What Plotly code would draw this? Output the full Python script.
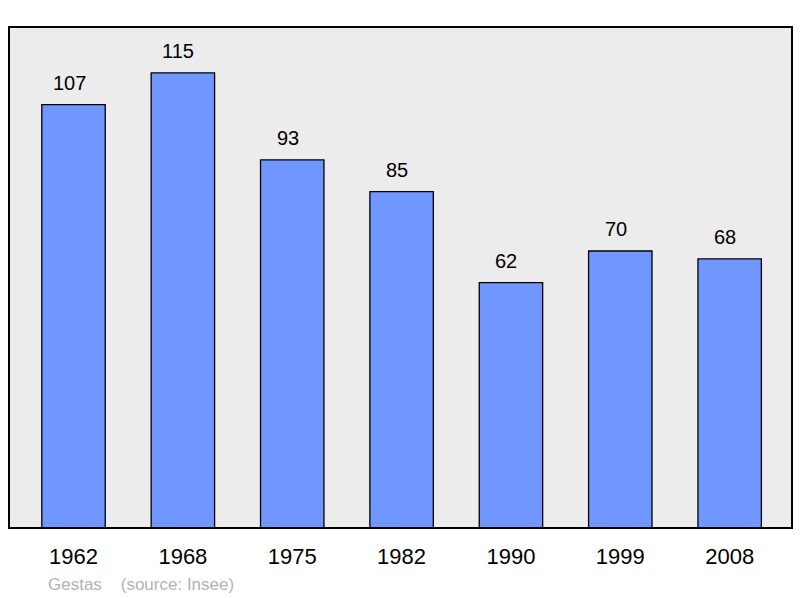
import plotly.graph_objects as go

years = ["1962", "1968", "1975", "1982", "1990", "1999", "2008"]
population = [107, 115, 93, 85, 62, 70, 68]
commune = "Gestas"
source = "(source: Insee)"

xs = list(range(len(years)))

fig = go.Figure()
fig.add_trace(go.Bar(
    x=xs, y=population, width=0.58,
    marker=dict(color="#7096ff", line=dict(color="black", width=1.3)),
    hoverinfo="skip",
))

for x, v in zip(xs, population):
    fig.add_annotation(x=x, y=v, text=str(v), showarrow=False, yanchor="bottom",
                       yshift=9, xshift=-4.5,
                       font=dict(size=20, color="black", family="Liberation Sans"))

fig.add_annotation(xref="paper", yref="paper", x=(46 - 9) / 783, y=-(584 - 528) / 501,
                   xanchor="left", yanchor="middle", showarrow=False,
                   text=commune + "&nbsp;&nbsp;&nbsp;&nbsp;" + source,
                   font=dict(size=17, color="#b3b3b3", family="Liberation Sans"))

fig.add_shape(type="rect", xref="paper", yref="paper", x0=0, y0=0, x1=1, y1=1,
              line=dict(color="black", width=2), layer="above")

fig.update_layout(
    width=800, height=598,
    margin=dict(l=9, r=8, t=27, b=70),
    paper_bgcolor="white", plot_bgcolor="#ececec",
    showlegend=False,
    font=dict(family="Liberation Sans", color="black"),
    xaxis=dict(tickmode="array", tickvals=xs, ticktext=years, range=[-0.59, 6.57],
               showgrid=False, zeroline=False, ticks="outside", ticklen=9,
               tickcolor="rgba(0,0,0,0)", tickfont=dict(size=22, color="black")),
    yaxis=dict(range=[0, 126.6], showgrid=False, zeroline=False, showticklabels=False),
)

fig.write_html("out.html", config={"displayModeBar": False},
               post_script="document.body.style.margin='0';document.body.style.overflow='hidden';")
